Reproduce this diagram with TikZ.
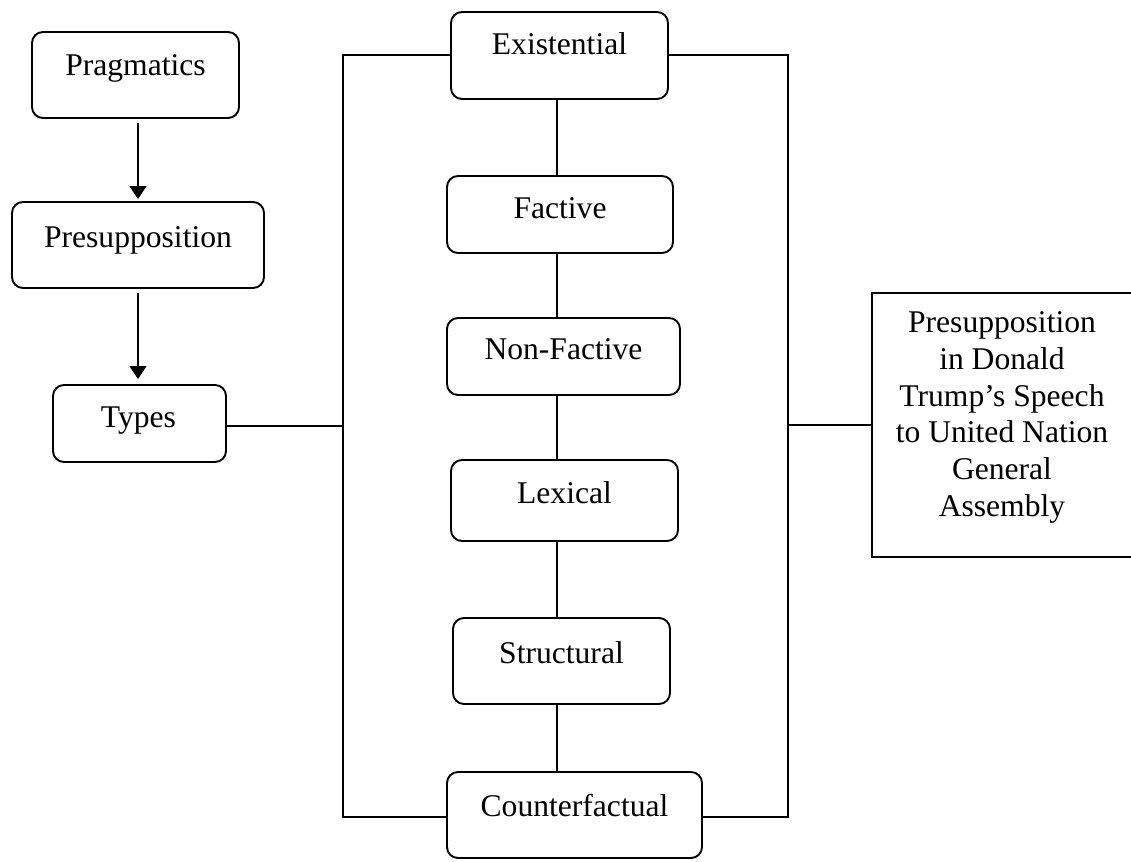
\documentclass[tikz,border=0pt]{standalone}
\usepackage{fontspec}
\setmainfont{Liberation Serif}
\usetikzlibrary{arrows.meta}
\begin{document}
\begin{tikzpicture}[x=1pt,y=-1pt,
  rbox/.style={draw, line width=1.9pt, rounded corners=11pt, inner sep=0pt},
  sbox/.style={draw, line width=1.9pt, inner sep=0pt},
  txt/.style={anchor=base, inner sep=0pt, font=\fontsize{31.6}{36.8}\selectfont},
  conn/.style={line width=1.6pt},
  arr/.style={line width=1.6pt, -{Triangle[length=13pt,width=17pt]}}]
\useasboundingbox (0,0) rectangle (1131,861);
\clip (0,0) rectangle (1131,861);
% boxes
\node[rbox, minimum width=207pt, minimum height=86pt] (prag) at (135.5,75) {};
\node[rbox, minimum width=252pt, minimum height=86pt] (pres) at (138,245) {};
\node[rbox, minimum width=173pt, minimum height=77pt] (types) at (139.5,423.5) {};
\node[rbox, minimum width=217pt, minimum height=87pt] (ex) at (559.5,55.5) {};
\node[rbox, minimum width=226pt, minimum height=77pt] (fa) at (560,214.5) {};
\node[rbox, minimum width=233pt, minimum height=77pt] (nf) at (563.5,356.5) {};
\node[rbox, minimum width=227pt, minimum height=81pt] (lex) at (564.5,500.5) {};
\node[rbox, minimum width=217pt, minimum height=86pt] (st) at (561.5,661) {};
\node[rbox, minimum width=255pt, minimum height=86pt] (cf) at (574.5,815) {};
\node[sbox, minimum width=262pt, minimum height=264pt] (res) at (1003,425) {};
% texts
\node[txt] (tprag) at (135.5,76) {Pragmatics};
\node[txt] (tpres) at (138,247) {Presupposition};
\node[txt] (ttypes) at (138.5,427) {Types};
\node[txt] (tex) at (559.5,55) {Existential};
\node[txt] (tfa) at (560,218) {Factive};
\node[txt] (tnf) at (563.5,359) {Non-Factive};
\node[txt] (tlex) at (564.5,503) {Lexical};
\node[txt] (tst) at (561.5,663) {Structural};
\node[txt] (tcf) at (574.5,816) {Counterfactual};
\node[txt] (r1) at (1002,332) {Presupposition};
\node[txt] (r2) at (1002,369) {in Donald};
\node[txt] (r3) at (1002,406) {Trump’s Speech};
\node[txt] (r4) at (1002,442) {to United Nation};
\node[txt] (r5) at (1002,479) {General};
\node[txt] (r6) at (1002,516) {Assembly};
% helper coordinates
\coordinate (ax) at (138,0);
\coordinate (cx) at (557,0);
\coordinate (L) at (343,0);
\coordinate (R) at (788,0);
\coordinate (top) at (0,55);
\coordinate (bot) at (0,817);
\coordinate (mid) at (0,426);
% arrows
\draw[arr, shorten <=4pt, shorten >=2pt] (prag.south -| ax) -- (pres.north -| ax);
\draw[arr, shorten <=4pt, shorten >=5pt] (pres.south -| ax) -- (types.north -| ax);
% central chain
\draw[conn] (ex.south -| cx) -- (fa.north -| cx);
\draw[conn] (fa.south -| cx) -- (nf.north -| cx);
\draw[conn] (nf.south -| cx) -- (lex.north -| cx);
\draw[conn] (lex.south -| cx) -- (st.north -| cx);
\draw[conn] (st.south -| cx) -- (cf.north -| cx);
% frames
\draw[conn] (ex.west |- top) -- (L |- top) -- (L |- bot) -- (cf.west |- bot);
\draw[conn] (ex.east |- top) -- (R |- top) -- (R |- bot) -- (cf.east |- bot);
\draw[conn] (types.east |- mid) -- (L |- mid);
\draw[conn] (R |- res.west) -- (res.west);
\end{tikzpicture}
\end{document}
